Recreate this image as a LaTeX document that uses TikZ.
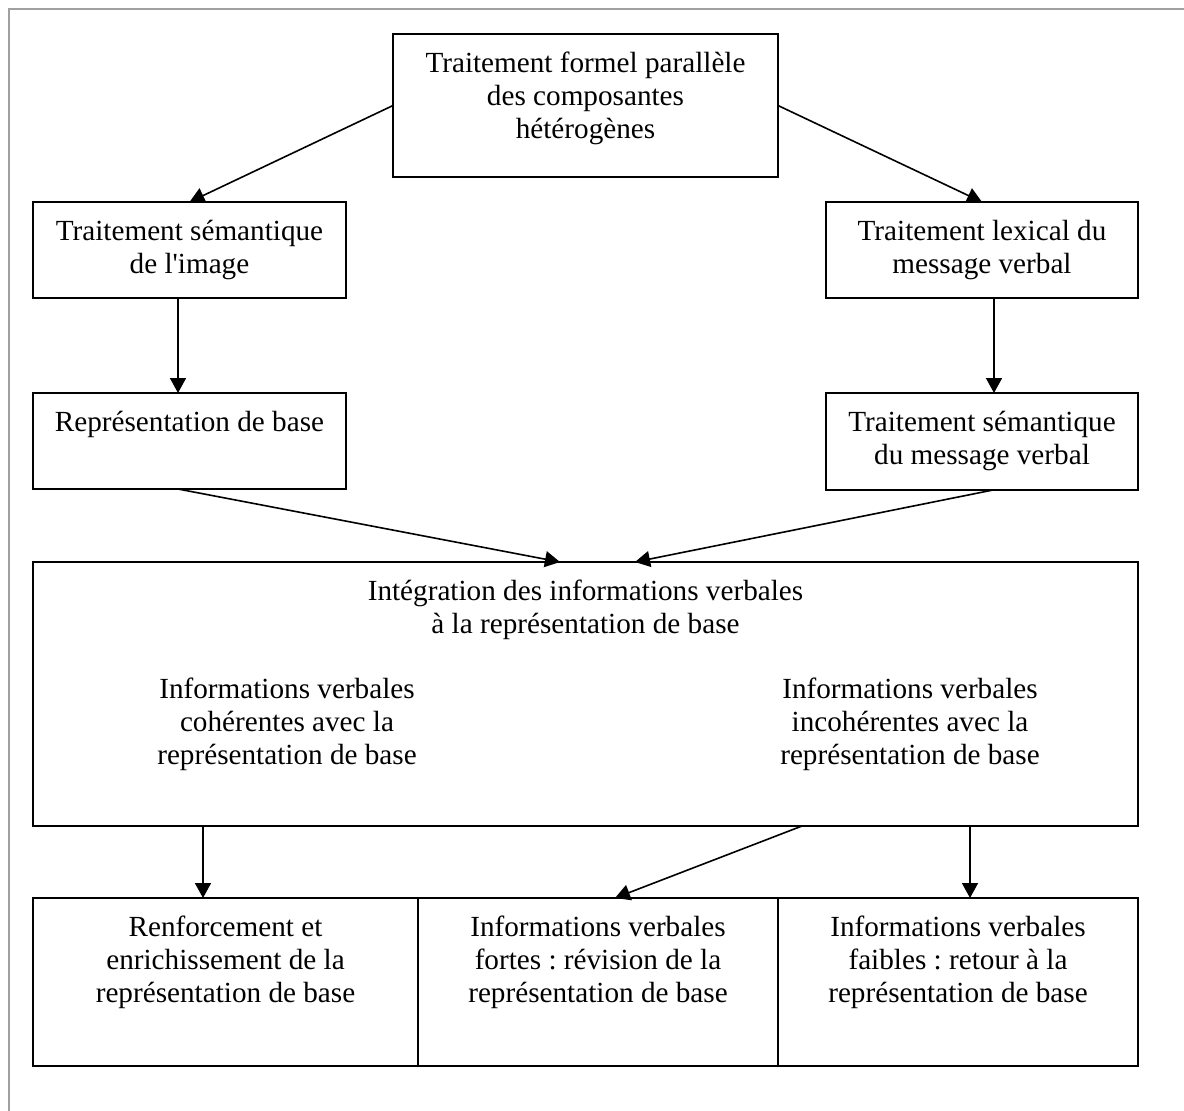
\documentclass[tikz,border=0pt]{standalone}
\usepackage{fontspec}
\setmainfont{Liberation Serif}
\usetikzlibrary{positioning, arrows.meta}
\definecolor{framegray}{RGB}{160,160,160}

\begin{document}
\begin{tikzpicture}[x=0.5pt, y=-0.5pt, node distance=0pt, line width=0.8pt,
    >={Triangle[length=7.5pt, width=8pt]},
    box/.style={draw, outer sep=0pt, inner sep=0pt},
    txt/.style={align=center, inner sep=0pt, font=\fontsize{14.6}{16.5}\selectfont\frenchspacing}]
        \useasboundingbox (0,0) rectangle (1184,1110);
        \draw[framegray, line width=0.75pt] (9,1200) |- (1200,9);

        \node[box, minimum width=192.5pt, minimum height=71.5pt] (formel) at (585.5,105.5) {};
        \node[txt, below=8.8pt of formel.north] (formelT) {Traitement formel parallèle\\des composantes\\hétérogènes};
        \node[box, minimum width=156.5pt, minimum height=48pt] (semImage) at (189.5,250) {};
        \node[txt, below=8.8pt of semImage.north] (semImageT) {Traitement sémantique\\de l\textquotesingle image};
        \node[box, minimum width=156pt, minimum height=48pt] (lexical) at (982,250) {};
        \node[txt, below=8.8pt of lexical.north] (lexicalT) {Traitement lexical du\\message verbal};
        \node[box, minimum width=156.5pt, minimum height=48pt] (repBase) at (189.5,441) {};
        \node[txt, below=8.8pt of repBase.north] (repBaseT) {Représentation de base};
        \node[box, minimum width=156pt, minimum height=48.5pt] (semVerbal) at (982,441.5) {};
        \node[txt, below=8.8pt of semVerbal.north] (semVerbalT) {Traitement sémantique\\du message verbal};

        \node[box, minimum width=552.5pt, minimum height=132pt] (integration) at (585.5,694) {};
        \node[txt, below=8.5pt of integration.north] (integrationT) {Intégration des informations verbales\\à la représentation de base};
        \node[txt, anchor=north] (coherent) at (287,677) {Informations verbales\\cohérentes avec la\\représentation de base};
        \node[txt, anchor=north] (incoherent) at (910,677) {Informations verbales\\incohérentes avec la\\représentation de base};

        \node[box, minimum width=192.5pt, minimum height=84pt] (renforcement) at (225.5,982) {};
        \node[box, minimum width=180pt, minimum height=84pt, right=of renforcement] (fortes) {};
        \node[box, minimum width=180pt, minimum height=84pt, right=of fortes] (faibles) {};
        \node[txt, below=8.8pt of renforcement.north] (renforcementT) {Renforcement et\\enrichissement de la\\représentation de base};
        \node[txt, below=8.8pt of fortes.north] (fortesT) {Informations verbales\\fortes : révision de la\\représentation de base};
        \node[txt, below=8.8pt of faibles.north] (faiblesT) {Informations verbales\\faibles : retour à la\\représentation de base};

        \draw[->] (formel.west) -- (semImage.north);
        \draw[->] (formel.east) -- (lexical.north);
        \draw[->] ([xshift=-5.75pt]semImage.south) -- ([xshift=-5.75pt]repBase.north);
        \draw[->] ([xshift=6pt]lexical.south) -- ([xshift=6pt]semVerbal.north);
        \draw[->] ([xshift=-5.75pt]repBase.south) -- ([xshift=-12.75pt]integration.north);
        \draw[->] ([xshift=5.5pt]semVerbal.south) -- ([xshift=24.75pt]integration.north);
        \draw[->] ([xshift=-11.25pt]renforcement.north |- integration.south) -- ([xshift=-11.25pt]renforcement.north);
        \draw[->] ([xshift=108.25pt]integration.south) -- ([xshift=8.5pt]fortes.north);
        \draw[->] ([xshift=6pt]faibles.north |- integration.south) -- ([xshift=6pt]faibles.north);

      \end{tikzpicture}
\end{document}
